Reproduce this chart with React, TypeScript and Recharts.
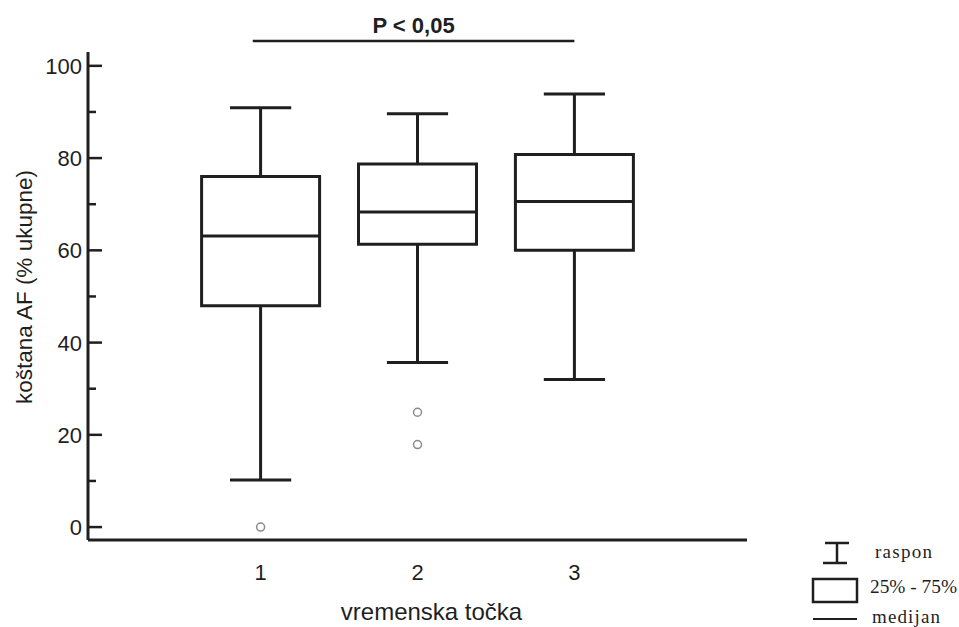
import React from 'react';
import { ComposedChart, XAxis, YAxis, ReferenceArea, ReferenceLine, Scatter, Label } from 'recharts';

const categories = [1, 2, 3];
const q1 = [48, 61.3, 60];
const median = [63.1, 68.3, 70.6];
const q3 = [76, 78.7, 80.8];
const whiskerLow = [10.2, 35.7, 32];
const whiskerHigh = [90.9, 89.6, 93.9];
const outlierCategory = [1, 2, 2];
const outlierValue = [0, 24.9, 17.9];
const yTicks = [0, 10, 20, 30, 40, 50, 60, 70, 80, 90, 100];
const xTicks = [1, 2, 3];
const sigFrom = 0.95;
const sigTo = 3;
const sigLevel = 105.4;
const sigText = 'P < 0,05';

const outliers = outlierCategory.map((c, i) => ({ x: c, y: outlierValue[i] }));

const INK = '#1f1f1f';
const SANS = '"Liberation Sans", Arial, sans-serif';
const SERIF = '"Liberation Serif", "Times New Roman", serif';
const BOX_HALF = 0.376;
const CAP_HALF = 0.195;

const YTick = (props: any) => {
  const { x, y, payload } = props;
  const v = payload.value;
  const major = v % 20 === 0;
  return (
    <g>
      <line x1={x} x2={x + (major ? 14 : 8)} y1={y} y2={y} stroke={INK} strokeWidth={2.5} />
      {major && (
        <text x={x - 6} y={y} dy="0.36em" textAnchor="end" fontSize={22} fontFamily={SANS} fill={INK}>
          {v}
        </text>
      )}
    </g>
  );
};

const OutlierShape = (props: any) => {
  const { cx, cy } = props;
  return <circle cx={cx} cy={cy} r={4} fill="#fff" stroke="#8a8a8a" strokeWidth={1.5} />;
};

export default function App() {
  return (
    <div style={{ position: 'absolute', left: 0, top: 0, width: 959, height: 627, background: '#fff' }}>
      <ComposedChart width={959} height={627} margin={{ top: 52, right: 212, bottom: 0, left: 0 }}>
        <XAxis
          type="number"
          dataKey="x"
          domain={[-0.1, 4.1]}
          allowDataOverflow
          ticks={xTicks}
          interval={0}
          tickLine={false}
          tickSize={0}
          tickMargin={24}
          height={87}
          axisLine={{ stroke: INK, strokeWidth: 3 }}
          tick={{ fontSize: 22, fontFamily: SANS, fill: INK }}
        >
          <Label value="vremenska točka" position="insideBottom" offset={7} dx={14} fontSize={24} fontFamily={SANS} fill={INK} />
        </XAxis>
        <YAxis
          type="number"
          dataKey="y"
          domain={[-2.8, 103]}
          allowDataOverflow
          ticks={yTicks}
          interval={0}
          width={88}
          tickLine={false}
          tickSize={0}
          tickMargin={0}
          axisLine={{ stroke: INK, strokeWidth: 3 }}
          tick={<YTick />}
        >
          <Label value="koštana AF (% ukupne)" angle={-90} position="center" dx={-20} dy={-9} fontSize={22.5} fontFamily={SANS} fill={INK} />
        </YAxis>

        {categories.map((c, i) => (
          <ReferenceLine
            key={'wh' + i}
            segment={[{ x: c, y: q3[i] }, { x: c, y: whiskerHigh[i] }]}
            stroke={INK}
            strokeWidth={3}
          />
        ))}
        {categories.map((c, i) => (
          <ReferenceLine
            key={'wl' + i}
            segment={[{ x: c, y: whiskerLow[i] }, { x: c, y: q1[i] }]}
            stroke={INK}
            strokeWidth={3}
          />
        ))}
        {categories.map((c, i) => (
          <ReferenceLine
            key={'ch' + i}
            segment={[{ x: c - CAP_HALF, y: whiskerHigh[i] }, { x: c + CAP_HALF, y: whiskerHigh[i] }]}
            stroke={INK}
            strokeWidth={3}
          />
        ))}
        {categories.map((c, i) => (
          <ReferenceLine
            key={'cl' + i}
            segment={[{ x: c - CAP_HALF, y: whiskerLow[i] }, { x: c + CAP_HALF, y: whiskerLow[i] }]}
            stroke={INK}
            strokeWidth={3}
          />
        ))}
        {categories.map((c, i) => (
          <ReferenceArea
            key={'box' + i}
            x1={c - BOX_HALF}
            x2={c + BOX_HALF}
            y1={q1[i]}
            y2={q3[i]}
            fill="#fff"
            fillOpacity={1}
            stroke={INK}
            strokeWidth={3}
          />
        ))}
        {categories.map((c, i) => (
          <ReferenceLine
            key={'med' + i}
            segment={[{ x: c - BOX_HALF, y: median[i] }, { x: c + BOX_HALF, y: median[i] }]}
            stroke={INK}
            strokeWidth={3}
          />
        ))}
        <ReferenceLine
          segment={[{ x: sigFrom, y: sigLevel }, { x: sigTo, y: sigLevel }]}
          stroke={INK}
          strokeWidth={2.5}
          ifOverflow="visible"
          label={{ value: sigText, position: 'top', offset: 8, fontSize: 22, fontWeight: 'bold', fontFamily: SANS, fill: INK }}
        />
        <Scatter data={outliers} dataKey="y" shape={<OutlierShape />} isAnimationActive={false} />
      </ComposedChart>

      <div style={{ position: 'absolute', left: 808, top: 538, width: 151, height: 89, fontFamily: SERIF, fontSize: 19, color: INK }}>
        <svg width={151} height={89} style={{ position: 'absolute', left: 0, top: 0 }}>
          <line x1={17} x2={41} y1={5} y2={5} stroke={INK} strokeWidth={2.5} />
          <line x1={29} x2={29} y1={5} y2={25} stroke={INK} strokeWidth={2.5} />
          <line x1={15} x2={39} y1={25} y2={25} stroke={INK} strokeWidth={2.5} />
          <rect x={5} y={41} width={44} height={23} fill="#fff" stroke={INK} strokeWidth={2.5} />
          <line x1={5} x2={49} y1={81} y2={81} stroke={INK} strokeWidth={2} />
          <text x={67} y={20} fontFamily={SERIF} fontSize={19} fill={INK} textLength={57} lengthAdjust="spacing">raspon</text>
          <text x={62} y={55} fontFamily={SERIF} fontSize={19} fill={INK} textLength={87} lengthAdjust="spacingAndGlyphs">25% - 75%</text>
          <text x={64} y={85} fontFamily={SERIF} fontSize={19} fill={INK} textLength={68} lengthAdjust="spacing">medijan</text>
        </svg>
      </div>
    </div>
  );
}
